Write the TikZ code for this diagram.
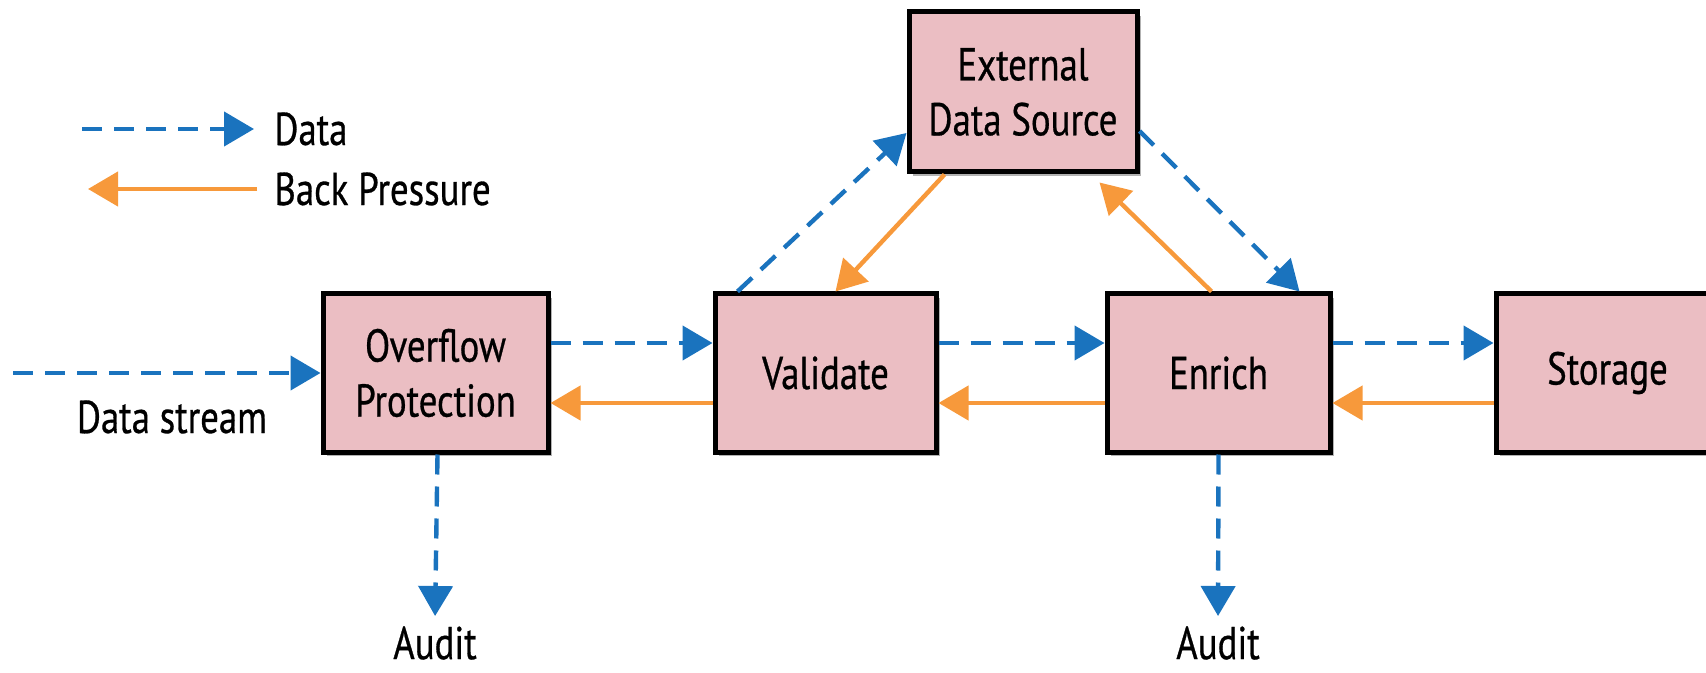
\documentclass[tikz,border=0pt]{standalone}
\usepackage{fontspec}
\setmainfont{PT Sans}[FakeStretch=0.8,FakeBold=0.6]
\usetikzlibrary{arrows.meta,shadows}
\definecolor{boxpink}{HTML}{EBBEC3}
\definecolor{datablue}{HTML}{1A73BE}
\definecolor{backorange}{HTML}{F7993B}
\tikzset{
  stage/.style={draw=black, line width=2.5pt, fill=boxpink, align=center,
    minimum height=79pt, font=\fontsize{23}{27.5}\selectfont,
    drop shadow={shadow xshift=2pt, shadow yshift=-2pt, opacity=0.3, fill=black}},
  txt/.style={font=\fontsize{23}{27.5}\selectfont, inner sep=2pt},
  dataflow/.style={datablue, line width=2.2pt, dash pattern=on 10pt off 6pt,
    -{Triangle[length=15pt,width=17pt]}},
  backflow/.style={backorange, line width=2.2pt,
    -{Triangle[length=15pt,width=17pt]}},
}
\begin{document}
\begin{tikzpicture}[x=0.5pt,y=-0.5pt]
      \useasboundingbox (0,0) rectangle (1706,673);
      \draw
        (435.5,373) node[stage, minimum width=112.5pt] (ovf){Overflow\\Protection}
        (825.5,373) node[stage, minimum width=110.5pt] (val){Validate}
        (1218.5,373) node[stage, minimum width=111.5pt] (enr){Enrich}
        (1607.5,373) node[stage, minimum width=111.5pt] (sto){Storage}
        (1023,92) node[stage, minimum width=114pt, minimum height=80pt] (ext){External\\Data Source};
      \draw
        (435,622) node[txt, anchor=north] (aud1){Audit}
        (1218,622) node[txt, anchor=north] (aud2){Audit}
        (172,417) node[txt] (dslabel){Data stream}
        (270,129) node[txt, anchor=west] (ldata){Data}
        (270,189) node[txt, anchor=west] (lback){Back Pressure};
      \coordinate (src) at (13,373);
      \coordinate (ldstart) at (82,129);
      \coordinate (lbend) at (88,189);
      % legend
      \draw[dataflow, shorten >=8pt] (ldstart) to (ldata.west);
      \draw[backflow, shorten <=6.5pt] (lback.west) to (lbend);
      % main line
      \draw[dataflow] (src) to (ovf.west);
      \draw[dataflow] ([yshift=15pt]ovf.east) to ([yshift=15pt]val.west);
      \draw[dataflow] ([yshift=15pt]val.east) to ([yshift=15pt]enr.west);
      \draw[dataflow] ([yshift=15pt]enr.east) to ([yshift=15pt]sto.west);
      \draw[backflow] ([yshift=-15pt]val.west) to ([yshift=-15pt]ovf.east);
      \draw[backflow] ([yshift=-15pt]enr.west) to ([yshift=-15pt]val.east);
      \draw[backflow] ([yshift=-15pt]sto.west) to ([yshift=-15pt]enr.east);
      % external source
      \draw[dataflow] ([xshift=12.5pt]val.north west) to ([yshift=-20.5pt]ext.west);
      \draw[backflow] ([xshift=19pt]ext.south west) to ([xshift=5pt]val.north);
      \draw[dataflow] ([yshift=-19.5pt]ext.east) to ([xshift=-16.5pt]enr.north east);
      \draw[backflow] ([xshift=-3.5pt]enr.north) to ([xshift=-20pt,yshift=-4pt]ext.south east);
      % audit
      \draw[dataflow, shorten >=3pt] ([xshift=1pt]ovf.south) to (aud1.north);
      \draw[dataflow, shorten >=3pt] (enr.south) to (aud2.north);
    \end{tikzpicture}
\end{document}
